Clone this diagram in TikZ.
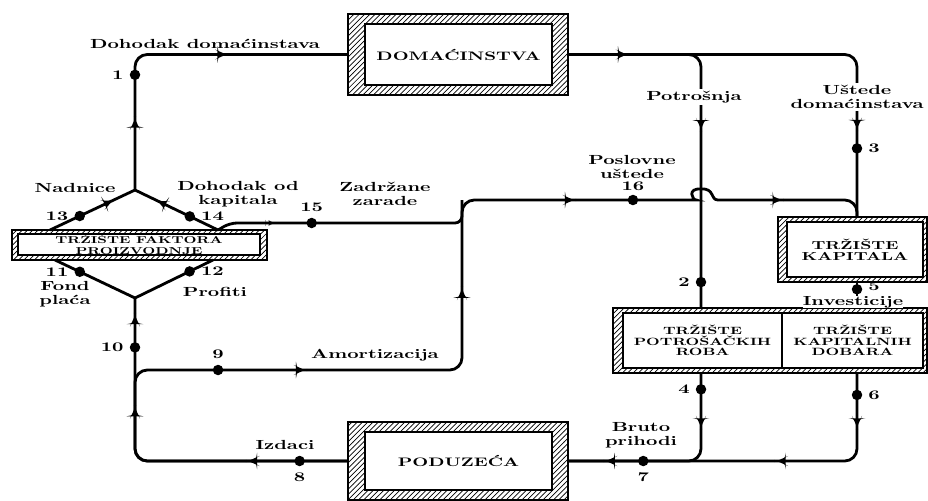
\documentclass[tikz,border=0pt]{standalone}
\usepackage{fontspec}
\newfontfamily\diafont{lmroman10-bold.otf}[FakeStretch=1.5]
\usetikzlibrary{shapes.geometric, arrows.meta, positioning, patterns, calc}
\tikzset{
    wall/.style={draw, line width=0.7pt, pattern=north east lines, inner sep=0pt},
    cell/.style={draw, line width=0.7pt, fill=white, align=center, inner sep=0pt},
    flow/.style={line width=1.6pt, rounded corners=7pt},
    dot/.style={circle, fill=black, inner sep=0pt, minimum size=2.1mm},
    flowtip/.style={isosceles triangle, isosceles triangle stretches, fill=black, inner sep=0pt, minimum width=4.5pt, minimum height=5pt, sloped, allow upside down},
    lbl/.style={font=\diafont\fontsize{7.5}{8.2}\selectfont, align=center, inner sep=1pt},
    num/.style={font=\diafont\fontsize{7.5}{8}\selectfont, inner sep=1.5pt}
}
\begin{document}
\begin{tikzpicture}[x=0.02cm, y=-0.02cm]
\useasboundingbox (0,0) rectangle (928,500);

% boxes
\node[wall, minimum width=4.4cm, minimum height=1.62cm] (dom) at (458,54.5) {};
\node[cell, minimum width=3.74cm, minimum height=1.22cm, font=\diafont\fontsize{7}{8}\selectfont] (domin) at (458.5,54.5) {DOMAĆINSTVA};
\node[wall, minimum width=5.1cm, minimum height=0.6cm] (fak) at (139.5,245) {};
\node[cell, minimum width=4.84cm, minimum height=0.42cm, font=\diafont\fontsize{5.7}{5.9}\selectfont] (fakin) at (139,244.5) {TRŽIŠTE FAKTORA\\PROIZVODNJE};
\node[wall, minimum width=2.98cm, minimum height=1.3cm] (kap) at (852.5,249.5) {};
\node[cell, minimum width=2.72cm, minimum height=1.1cm, font=\diafont\fontsize{6.6}{6.4}\selectfont] (kapin) at (855,249.5) {TRŽIŠTE\\KAPITALA};
\node[wall, minimum width=6.28cm, minimum height=1.3cm] (trz) at (770,340.5) {};
\node[cell, minimum width=3.18cm, minimum height=1.1cm, font=\diafont\fontsize{6}{5.9}\selectfont] (rob) at (702.5,340.5) {TRŽIŠTE\\POTROŠAČKIH\\ROBA};
\node[cell, minimum width=2.82cm, minimum height=1.1cm, font=\diafont\fontsize{6}{5.9}\selectfont] (dob) at (852.5,340.5) {TRŽIŠTE\\KAPITALNIH\\DOBARA};
\node[wall, minimum width=4.4cm, minimum height=1.56cm] (pod) at (458,461) {};
\node[cell, minimum width=3.74cm, minimum height=1.16cm, font=\diafont\fontsize{7}{8}\selectfont] (podin) at (458.5,461) {PODUZEĆA};

% corners and forks
\coordinate (forkU) at (135,190);
\coordinate (cTL) at (135,54.5);
\coordinate (fL) at (50,230);
\coordinate (fR) at (218,230);
\coordinate (forkD) at (135,298);
\coordinate (gL) at (55,260);
\coordinate (gR) at (213,260);
\coordinate (cBL) at (135,461);
\coordinate (cL9) at (135,370);
\coordinate (cB9) at (462,370);
\coordinate (cV2) at (462,200);
\coordinate (c15) at (230,223);
\coordinate (cJ15) at (462,223);
\coordinate (hopA) at (684,200);
\coordinate (hopB) at (718,200);
\coordinate (hopC) at (740,200);
\coordinate (cK) at (857,200);
\coordinate (cP) at (701,54.5);
\coordinate (cTR) at (857,54.5);
\coordinate (cR4) at (701,461);
\coordinate (cR6) at (857,461);

% household income
\draw[flow] (forkU) -- node[flowtip, pos=0.48] {} node[dot, pos=0.85] (d1) {} (cTL) -- node[flowtip, pos=0.4] {} (dom.west);
\draw[flow] (fL) -- node[dot, pos=0.35] (d13) {} node[flowtip, pos=0.67] {} (forkU);
\draw[flow] (fR) -- node[dot, pos=0.34] (d14) {} node[flowtip, pos=0.66] {} (forkU);

% consumption and savings
\draw[flow] (dom.east) -- node[flowtip, pos=0.18] {} (cTR) -- node[flowtip, pos=0.42] {} node[dot, pos=0.58] (d3) {} (cTR |- kap.north);
\draw[flow] (dom.east) -- (cP) -- node[flowtip, pos=0.27] {} node[dot, pos=0.9] (d2) {} (cP |- trz.north);
\draw[flow] (cTR |- kap.south) -- node[dot, pos=0.27] (d5) {} (cTR |- trz.north);

% gross revenue
\draw[flow] (cR4 |- trz.south) -- node[dot, pos=0.18] (d4) {} node[flowtip, pos=0.54] {} (cR4) -- node[dot, pos=0.436] (d7) {} node[flowtip, pos=0.67] {} (pod.east);
\draw[flow] (cR6 |- trz.south) -- node[dot, pos=0.244] (d6) {} node[flowtip, pos=0.54] {} (cR6) -- node[flowtip, pos=0.256] {} (pod.east);

% expenditures
\draw[flow] (pod.west) -- node[dot, pos=0.225] (d8) {} node[flowtip, pos=0.437] {} (cBL) -- node[flowtip, pos=0.29] {} node[dot, pos=0.697] (d10) {} node[flowtip, pos=0.855] {} (forkD);
\draw[flow] (forkD) -- node[dot, pos=0.69] (d11) {} (gL);
\draw[flow] (forkD) -- node[dot, pos=0.7] (d12) {} (gR);

% depreciation, retained earnings, business savings
\draw[flow] (pod.west) -- (cBL) -- (cL9) -- node[dot, pos=0.254] (d9) {} node[flowtip, pos=0.5] {} (cB9) -- node[flowtip, pos=0.44] {} (cV2) -- node[flowtip, pos=0.475] {} node[dot, pos=0.77] (d16) {} (hopA) [sharp corners]
    .. controls ($(hopA)+(8,0)$) and ($(hopA)+(3,-12)$) .. ($(hopA)!0.5!(hopB)+(0,-11)$)
    .. controls ($(hopB)+(-3,-12)$) and ($(hopB)+(-8,0)$) .. (hopB) -- (hopC) [rounded corners=7pt]
    -- node[flowtip, pos=0.3] {} (cK) -- (cTR |- kap.north);
\draw[flow, rounded corners=4pt] (fR) -- (c15) -- node[flowtip, pos=0.165] {} node[dot, pos=0.352] (d15) {} (cJ15) -- (cV2);

% labels
\node[lbl] at (205,44) {Dohodak domaćinstava};
\node[num, left=1pt of d1] {1};
\node[lbl] at (75,188) {Nadnice};
\node[num, left=1pt of d13] {13};
\node[num, right=1pt of d14] {14};
\node[lbl] at (238,194) {Dohodak od\\kapitala};
\node[lbl] at (385,194) {Zadržane\\zarade};
\node[num, above=1pt of d15] {15};
\node[lbl] at (632,167) {Poslovne\\uštede};
\node[num, above=0pt of d16] {16};
\node[lbl, fill=white] at (694,97) {Potrošnja};
\node[lbl, fill=white] at (857,97) {Uštede\\domaćinstava};
\node[num, right=1pt of d3] {3};
\node[num, left=1pt of d2] {2};
\node[num, right=1pt of d5, yshift=2pt] {5};
\node[lbl, fill=white, inner sep=0pt] at (853,302) {Investicije};
\node[num, left=1pt of d4] {4};
\node[num, right=1pt of d6] {6};
\node[lbl] at (641,435) {Bruto\\prihodi};
\node[num, below=1pt of d7] {7};
\node[lbl] at (285,445) {Izdaci};
\node[num, below=1pt of d8] {8};
\node[num, above=1pt of d9] {9};
\node[lbl] at (375,355) {Amortizacija};
\node[num, left=1pt of d10] {10};
\node[num, left=1pt of d11] {11};
\node[num, right=1pt of d12] {12};
\node[lbl] at (65,294) {Fond\\plaća};
\node[lbl] at (215,292) {Profiti};
\end{tikzpicture}
\end{document}
